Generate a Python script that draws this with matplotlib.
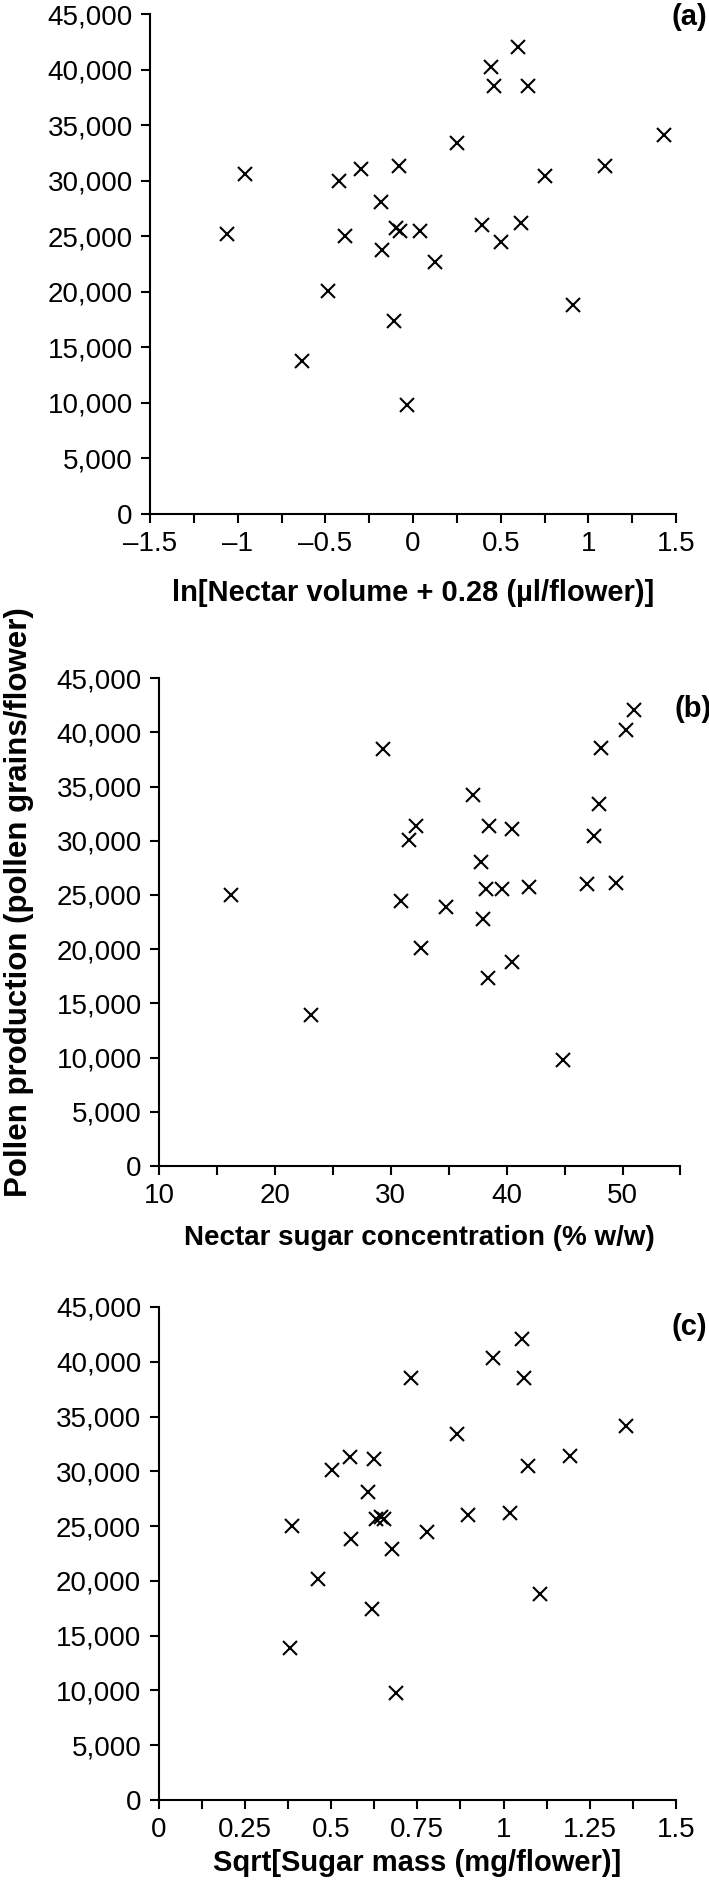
import matplotlib as mpl
mpl.use('Agg')
import matplotlib.pyplot as plt
from matplotlib.ticker import FuncFormatter, MultipleLocator

plt.rcParams['font.family'] = ['Liberation Sans', 'DejaVu Sans']

# (a) ln[nectar volume + 0.28] vs pollen production
vol_x = [-1.06, -0.96, -0.635, -0.484, -0.42, -0.389, -0.295, -0.181, -0.179,
         -0.106, -0.078, -0.096, -0.075, -0.036, 0.039, 0.124, 0.251, 0.396,
         0.446, 0.459, 0.503, 0.598, 0.614, 0.658, 0.754, 0.914, 1.093, 1.43]
vol_y = [25200, 30600, 13800, 20100, 30000, 25000, 31050, 28100, 23800,
         17400, 31300, 25700, 25500, 9800, 25500, 22700, 33400, 26000,
         40200, 38500, 24500, 42000, 26200, 38500, 30400, 18800, 31350, 34150]

# (b) nectar sugar concentration
conc_x = [16.2, 23.1, 29.3, 30.9, 31.6, 32.2, 32.6, 34.8, 37.1, 37.8, 38.0,
          38.2, 38.4, 38.5, 39.6, 40.5, 40.5, 41.9, 44.9, 46.9, 47.5, 48.0,
          48.1, 49.4, 50.3, 51.0]
conc_y = [25000, 13900, 38450, 24450, 30100, 31350, 20150, 23900, 34200,
          28050, 22800, 25550, 17300, 31350, 25550, 31050, 18800, 25700,
          9800, 26000, 30400, 33400, 38550, 26100, 40250, 42050]

# (c) sqrt[sugar mass]
mass_x = [0.380, 0.388, 0.463, 0.504, 0.555, 0.558, 0.608, 0.618, 0.623, 0.631,
          0.645, 0.654, 0.676, 0.687, 0.732, 0.778, 0.865, 0.898, 0.969, 1.020,
          1.054, 1.058, 1.072, 1.107, 1.194, 1.356]
mass_y = [13900, 25050, 20150, 30100, 31350, 23850, 28100, 17400, 31150, 25650,
          25850, 25650, 22900, 9800, 38550, 24450, 33450, 26000, 40300, 26200,
          42100, 38550, 30500, 18800, 31400, 34150]

yticks = list(range(0, 45001, 5000))

fig = plt.figure(figsize=(7.09, 18.92), dpi=100)

FS = 20     # tick labels
LFS = 21    # bold axis labels


def style(ax, xlim, xmajor, xminor, xlabels, xlab, xlab_y, tag, tag_y):
    ax.set_xlim(*xlim)
    ax.set_ylim(0, 45000)
    ax.set_yticks(yticks)
    ax.yaxis.set_major_formatter(FuncFormatter(lambda v, p: '{:,}'.format(int(v))))
    ax.set_xticks(xmajor)
    ax.set_xticklabels(xlabels)
    ax.xaxis.set_minor_locator(MultipleLocator(xminor))
    for s in ['top', 'right']:
        ax.spines[s].set_visible(False)
    for s in ['left', 'bottom']:
        ax.spines[s].set_linewidth(1.5)
    ax.tick_params(which='both', direction='out', length=6.5, width=1.5,
                   labelsize=FS, pad=6)
    ax.set_xlabel(xlab, fontsize=LFS, fontweight='bold')
    ax.xaxis.set_label_coords(0.5, xlab_y)
    ax.xaxis.label.set_verticalalignment('center')
    ax.text(1.06, tag_y, tag, transform=ax.transAxes, ha='right', va='center',
            fontsize=LFS, fontweight='bold')


ax1 = fig.add_axes([0.2116, 0.7283, 0.7419, 0.2643])
ax1.plot(vol_x, vol_y, 'x', color='black', markersize=9.5, markeredgewidth=1.5)
style(ax1, (-1.5, 1.5), [-1.5, -1, -0.5, 0, 0.5, 1, 1.5], 0.25,
      ['\u20131.5', '\u20131', '\u20130.5', '0', '0.5', '1', '1.5'],
      'ln[Nectar volume + 0.28 (\u00b5l/flower)]', -0.158, '(a)', 0.995)

ax2 = fig.add_axes([0.2243, 0.3837, 0.7355, 0.2579])
ax2.plot(conc_x, conc_y, 'x', color='black', markersize=9.5, markeredgewidth=1.5)
style(ax2, (10, 55), [10, 20, 30, 40, 50], 5,
      ['10', '20', '30', '40', '50'],
      'Nectar sugar concentration (% w/w)', -0.1475, '(b)', 0.936)
ax2.xaxis.label.set_fontsize(20)
ax2.set_ylabel('Pollen production (pollen grains/flower)', fontsize=22.5,
               fontweight='bold')
ax2.yaxis.label.set_verticalalignment('center')
ax2.yaxis.set_label_coords(-0.268, 0.54)

ax3 = fig.add_axes([0.2237, 0.0486, 0.7298, 0.2606])
ax3.plot(mass_x, mass_y, 'x', color='black', markersize=9.5, markeredgewidth=1.5)
style(ax3, (0, 1.5), [0, 0.25, 0.5, 0.75, 1, 1.25, 1.5], 0.125,
      ['0', '0.25', '0.5', '0.75', '1', '1.25', '1.5'],
      'Sqrt[Sugar mass (mg/flower)]', -0.128, '(c)', 0.96)

plt.savefig('out.png', dpi=100)
